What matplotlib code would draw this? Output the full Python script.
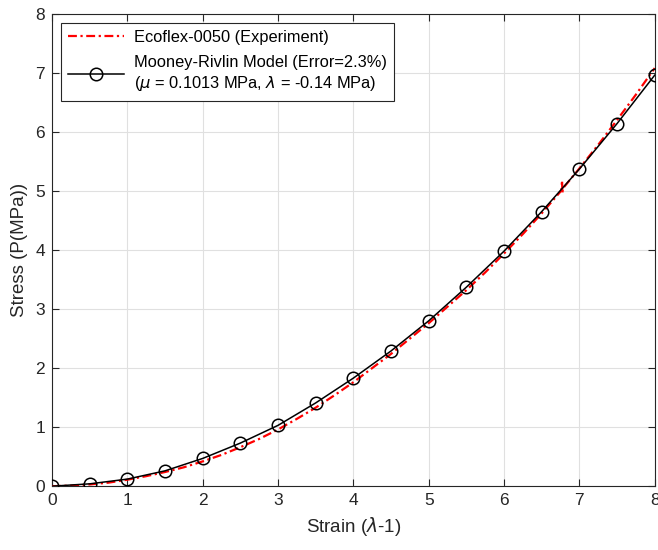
import matplotlib.pyplot as plt

plt.rcParams['font.family'] = ['Liberation Sans', 'DejaVu Sans']
plt.rcParams['mathtext.fontset'] = 'dejavusans'

# experimental curve (Ecoflex-0050)
strain_exp = [0, 0.25, 0.5, 0.75, 1.0, 1.25, 1.5, 1.75, 2.0, 2.25, 2.5, 2.75, 3.0, 3.25,
              3.5, 3.75, 4.0, 4.25, 4.5, 4.75, 5.0, 5.25, 5.5, 5.75, 6.0, 6.25, 6.5, 6.75,
              6.76, 6.77, 6.775, 6.78, 7.0, 7.25, 7.5, 7.75, 8.0]
stress_exp = [0, 0.01, 0.03, 0.06, 0.11, 0.17, 0.24, 0.32, 0.42, 0.53, 0.66, 0.80, 0.96, 1.14,
              1.33, 1.54, 1.76, 2.00, 2.24, 2.50, 2.76, 3.04, 3.32, 3.62, 3.94, 4.27, 4.62, 4.99,
              5.00, 5.18, 4.96, 5.04, 5.38, 5.78, 6.20, 6.63, 7.08]

# Mooney-Rivlin fit
strain_mr = [0, 0.5, 1.0, 1.5, 2.0, 2.5, 3.0, 3.5, 4.0, 4.5, 5.0, 5.5, 6.0, 6.5, 7.0, 7.5, 8.0]
stress_mr = [0, 0.04, 0.12, 0.26, 0.47, 0.73, 1.03, 1.41, 1.83, 2.29, 2.80, 3.37, 3.98,
             4.65, 5.37, 6.14, 6.96]

fig = plt.figure(figsize=(6.58, 5.5), dpi=100)
ax = fig.add_axes([0.079, 0.116, 0.916, 0.859])

ax.plot(strain_exp, stress_exp, color='red', linewidth=1.6, linestyle=(0, (4, 1.6, 1, 1.6)),
        label='Ecoflex-0050 (Experiment)', zorder=3)
ax.plot(strain_mr, stress_mr, color='black', linewidth=1.1, marker='o', markersize=9,
        markerfacecolor='none', markeredgewidth=1.1,
        label='Mooney-Rivlin Model (Error=2.3%)\n($\\mu$ = 0.1013 MPa, $\\lambda$ = -0.14 MPa)',
        zorder=4)

ax.set_xlim(0, 8)
ax.set_ylim(0, 8)
ax.set_xticks(range(0, 9))
ax.set_yticks(range(0, 9))
ax.grid(True, color='#e0e0e0', linewidth=0.8)
ax.set_axisbelow(True)
ax.tick_params(direction='in', top=True, right=True, labelsize=12.5, colors='#262626',
               length=5, pad=5)
for s in ax.spines.values():
    s.set_color('#262626')
    s.set_linewidth(0.8)

ax.set_xlabel('Strain ($\\lambda$-1)', fontsize=13.5, color='#262626', labelpad=5)
ax.set_ylabel('Stress (P(MPa))', fontsize=13.5, color='#262626', labelpad=5)

leg = ax.legend(loc='upper left', fontsize=11.8, fancybox=False, framealpha=1,
                edgecolor='#262626', handlelength=3.4, borderaxespad=0.55,
                borderpad=0.45, labelspacing=0.6, handletextpad=0.6)
leg.get_frame().set_linewidth(0.8)
for t in leg.get_texts():
    t.set_linespacing(1.3)

fig.savefig('out.png', dpi=100)
